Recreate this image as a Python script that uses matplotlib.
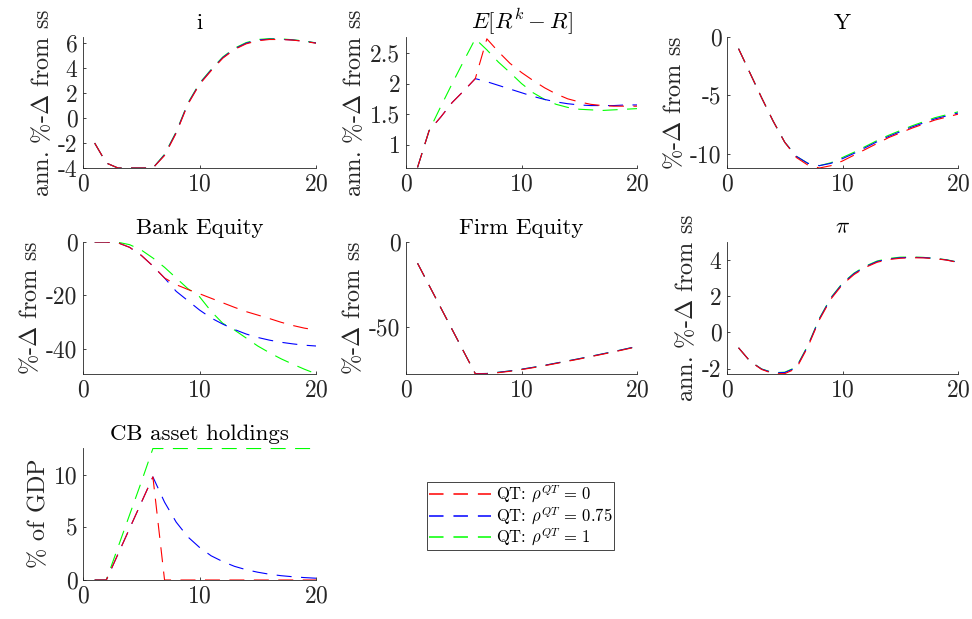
import matplotlib
matplotlib.use('Agg')
import matplotlib.pyplot as plt
from matplotlib.lines import Line2D
from matplotlib.ticker import FuncFormatter

plt.rcParams['font.family'] = 'serif'
plt.rcParams['font.serif'] = ['cmr10']
plt.rcParams['mathtext.fontset'] = 'cm'
plt.rcParams['axes.unicode_minus'] = False
plt.rcParams['axes.formatter.use_mathtext'] = True

t = list(range(1, 21))

# impulse responses: red (rho=0), blue (rho=0.75), green (rho=1)
i_red = [-2.0, -3.6, -4.0, -4.0, -4.0, -4.0, -3.0, -1.2, 1.1, 2.7, 3.8, 4.8, 5.5, 5.95, 6.2, 6.3, 6.3, 6.25, 6.15, 6.0]
i_blue = [-2.0, -3.6, -4.0, -4.0, -4.0, -4.0, -2.95, -1.15, 1.15, 2.75, 3.85, 4.85, 5.55, 6.0, 6.25, 6.33, 6.32, 6.26, 6.16, 6.02]
i_green = [-2.0, -3.6, -4.0, -4.0, -4.0, -4.0, -2.9, -1.1, 1.2, 2.8, 3.9, 4.9, 5.6, 6.05, 6.3, 6.37, 6.35, 6.28, 6.18, 6.03]

e_red = [0.63, 1.23, 1.45, 1.69, 1.88, 2.08, 2.73, 2.52, 2.33, 2.18, 2.05, 1.93, 1.83, 1.75, 1.7, 1.66, 1.64, 1.63, 1.63, 1.63]
e_blue = [0.63, 1.23, 1.45, 1.69, 1.88, 2.08, 2.03, 1.97, 1.91, 1.85, 1.79, 1.74, 1.7, 1.67, 1.65, 1.64, 1.64, 1.64, 1.65, 1.65]
e_green = [0.63, 1.23, 1.62, 2.0, 2.37, 2.73, 2.55, 2.35, 2.18, 2.0, 1.85, 1.74, 1.66, 1.61, 1.58, 1.57, 1.56, 1.57, 1.58, 1.59]

y_red = [-1.0, -3.1, -5.2, -7.2, -9.0, -10.3, -10.95, -11.2, -11.0, -10.6, -10.1, -9.6, -9.1, -8.6, -8.2, -7.8, -7.45, -7.1, -6.85, -6.6]
y_blue = [-1.0, -3.1, -5.2, -7.2, -9.0, -10.2, -10.8, -11.0, -10.8, -10.4, -9.95, -9.45, -8.95, -8.5, -8.1, -7.7, -7.35, -7.0, -6.75, -6.5]
y_green = [-1.0, -3.1, -5.2, -7.2, -9.0, -10.2, -10.8, -11.0, -10.75, -10.3, -9.85, -9.35, -8.85, -8.4, -8.0, -7.6, -7.25, -6.9, -6.65, -6.4]

be_red = [0.0, 0.0, -0.3, -2.0, -5.0, -9.0, -13.5, -16.0, -17.8, -19.4, -21.1, -22.8, -24.5, -26.1, -27.4, -28.7, -30.1, -31.3, -32.3, -33.0]
be_blue = [0.0, 0.0, -0.3, -2.0, -5.0, -9.0, -13.5, -18.5, -22.0, -25.5, -28.5, -30.8, -32.8, -34.5, -35.8, -36.8, -37.6, -38.2, -38.7, -39.0]
be_green = [0.0, 0.0, -0.1, -1.0, -3.0, -6.0, -9.5, -13.5, -17.5, -20.5, -26.0, -30.5, -33.0, -36.0, -39.0, -41.5, -43.8, -45.8, -47.7, -49.4]

fe_red = [-12.5, -25.5, -38.5, -51.5, -64.5, -77.5, -77.5, -76.8, -76.0, -75.0, -73.9, -72.7, -71.4, -70.1, -68.8, -67.4, -66.0, -64.6, -63.1, -61.6]
fe_blue = [-12.5, -25.5, -38.5, -51.5, -64.5, -77.4, -77.3, -76.6, -75.8, -74.8, -73.7, -72.5, -71.2, -69.9, -68.6, -67.2, -65.8, -64.4, -62.9, -61.4]
fe_green = [-12.5, -25.5, -38.5, -51.5, -64.5, -77.4, -77.3, -76.6, -75.8, -74.8, -73.7, -72.5, -71.2, -69.9, -68.6, -67.2, -65.8, -64.4, -62.9, -61.4]

pi_red = [-0.85, -1.6, -2.05, -2.28, -2.28, -2.0, -0.8, 0.7, 1.85, 2.65, 3.2, 3.6, 3.88, 4.03, 4.1, 4.13, 4.12, 4.08, 4.0, 3.87]
pi_blue = [-0.85, -1.6, -2.03, -2.24, -2.22, -1.95, -0.75, 0.75, 1.9, 2.7, 3.25, 3.64, 3.92, 4.06, 4.13, 4.15, 4.14, 4.09, 4.01, 3.88]
pi_green = [-0.85, -1.6, -2.02, -2.23, -2.2, -1.92, -0.72, 0.78, 1.93, 2.73, 3.28, 3.67, 3.95, 4.09, 4.16, 4.17, 4.15, 4.1, 4.02, 3.89]

cb_red = [0.0, 0.0, 2.45, 4.9, 7.35, 9.8, 0.0, 0.0, 0.0, 0.0, 0.0, 0.0, 0.0, 0.0, 0.0, 0.0, 0.0, 0.0, 0.0, 0.0]
cb_blue = [0.0, 0.0, 2.45, 4.9, 7.35, 9.8, 7.4, 5.5, 4.1, 3.1, 2.3, 1.75, 1.3, 0.98, 0.74, 0.55, 0.41, 0.31, 0.23, 0.17]
cb_green = [0.0, 0.0, 3.1, 6.2, 9.3, 12.5, 12.5, 12.5, 12.5, 12.5, 12.5, 12.5, 12.5, 12.5, 12.5, 12.5, 12.5, 12.5, 12.5, 12.5]

titles = ['i', r'$E[R^k-R]$', 'Y', 'Bank Equity', 'Firm Equity', r'$\pi$', 'CB asset holdings']
ylabels = [r'ann. $\%$-$\Delta$ from ss', r'ann. $\%$-$\Delta$ from ss', r'$\%$-$\Delta$ from ss',
           r'$\%$-$\Delta$ from ss', r'$\%$-$\Delta$ from ss', r'ann. $\%$-$\Delta$ from ss', r'$\%$ of GDP']
series = [(i_red, i_blue, i_green), (e_red, e_blue, e_green), (y_red, y_blue, y_green),
          (be_red, be_blue, be_green), (fe_red, fe_blue, fe_green), (pi_red, pi_blue, pi_green),
          (cb_red, cb_blue, cb_green)]
ylims = [(-4, 6.5), (0.62, 2.76), (-11.2, 0), (-49.5, 0), (-77.6, 0), (-2.3, 5), (0, 12.55)]
yticks = [[-4, -2, 0, 2, 4, 6], [1, 1.5, 2, 2.5], [-10, -5, 0], [-40, -20, 0], [-50, 0], [-2, 0, 2, 4], [0, 5, 10]]
labels = [r'QT: $\rho^{QT}\,=\,0$', r'QT: $\rho^{QT}\,=\,0.75$', r'QT: $\rho^{QT}\,=\,1$']
colors = ['#ff0000', '#0000ff', '#00ff00']

fig = plt.figure(figsize=(9.72, 6.19), dpi=100)
W, H = 972, 619
lefts = [83, 406, 727]
rows = [(37, 168), (242, 374), (448, 580)]
axc = '#262626'

for k in range(7):
    r, c = divmod(k, 3)
    top, bot = rows[r]
    w = 233 if c == 0 else 231
    ax = fig.add_axes([lefts[c] / W, 1 - bot / H, w / W, (bot - top) / H])
    for j in (2, 1, 0):
        ax.plot(t, series[k][j], color=colors[j], lw=0.8, dashes=(13.5, 8.5), zorder=4 - j)
    ax.set_xlim(0, 20)
    ax.set_ylim(*ylims[k])
    ax.set_xticks([0, 10, 20])
    ax.set_yticks(yticks[k])
    ax.yaxis.set_major_formatter(FuncFormatter(lambda v, p: '%g' % v))
    for s in ('top', 'right'):
        ax.spines[s].set_visible(False)
    for s in ('left', 'bottom'):
        ax.spines[s].set_color(axc)
        ax.spines[s].set_linewidth(0.6)
    ax.tick_params(direction='in', length=2.5, width=0.6, color=axc, labelcolor=axc, labelsize=17, pad=4)
    ax.set_title(titles[k], fontsize=16.5, pad=6)
    ax.set_ylabel(ylabels[k], fontsize=17.5, color=axc, labelpad=3)

handles = [Line2D([], [], color=colors[j], lw=1.1, dashes=(9.5, 6.5)) for j in range(3)]
leg = fig.legend(handles, labels, loc='upper left',
                 bbox_to_anchor=(427 / W, 1 - 482 / H), borderaxespad=0, fontsize=12,
                 fancybox=False, edgecolor=axc, framealpha=1, handlelength=3.7,
                 labelspacing=0.02, handletextpad=0.3, borderpad=0.12)
leg.get_frame().set_linewidth(0.6)

fig.savefig('out.png', dpi=100)
